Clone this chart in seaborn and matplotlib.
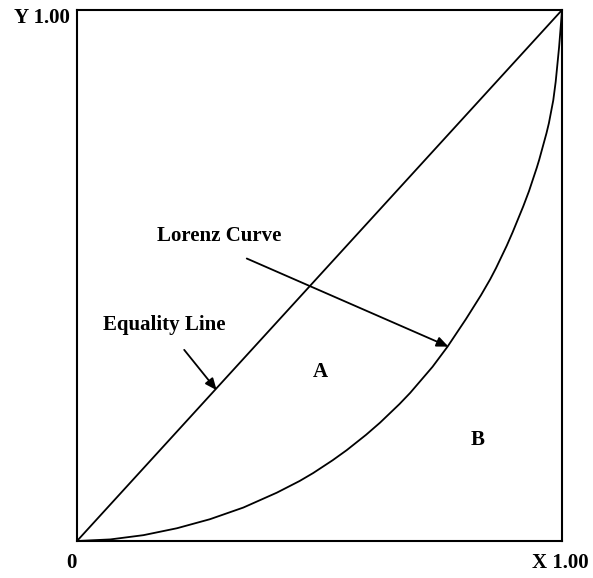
import matplotlib
matplotlib.use("Agg")
import matplotlib.pyplot as plt
import seaborn as sns
import pandas as pd

# Equality line
eq_x = [0.0, 1.0]
eq_y = [0.0, 1.0]

# Lorenz curve points
lorenz_x = [0.0, 0.069, 0.137, 0.206, 0.274, 0.343, 0.412, 0.459, 0.487, 0.527,
            0.556, 0.596, 0.625, 0.665, 0.687, 0.733, 0.764, 0.802, 0.833, 0.852,
            0.864, 0.886, 0.898, 0.920, 0.932, 0.948, 0.953, 0.968, 0.973, 0.982,
            0.987, 0.994, 0.998, 1.0]
lorenz_y = [0.0, 0.003, 0.011, 0.024, 0.041, 0.063, 0.091, 0.113, 0.128, 0.152,
            0.171, 0.200, 0.223, 0.258, 0.279, 0.328, 0.366, 0.418, 0.463, 0.493,
            0.514, 0.556, 0.581, 0.630, 0.659, 0.703, 0.718, 0.768, 0.787, 0.830,
            0.865, 0.930, 0.976, 1.0]

sns.set_style("white")
plt.rcParams['font.family'] = ['Liberation Serif', 'DejaVu Serif']

fig = plt.figure(figsize=(5.93, 5.78), dpi=100)
ax = fig.add_axes([77/593, 37/578, 485/593, 531/578])

eq_df = pd.DataFrame({"x": eq_x, "y": eq_y})
lz_df = pd.DataFrame({"x": lorenz_x, "y": lorenz_y})
sns.lineplot(data=eq_df, x="x", y="y", ax=ax, color="black", lw=1.3, sort=False)
sns.lineplot(data=lz_df, x="x", y="y", ax=ax, color="black", lw=1.3, sort=False)

ax.set_xlim(0, 1)
ax.set_ylim(0, 1)
ax.set_xticks([])
ax.set_yticks([])
ax.set_xlabel("")
ax.set_ylabel("")
for s in ax.spines.values():
    s.set_color("black")
    s.set_linewidth(1.5)

fs = 15
tkw = dict(fontsize=fs, fontweight="bold", color="black")
ax.text(0.293, 0.574, "Lorenz Curve", ha="center", va="center", **tkw)
ax.text(0.179, 0.407, "Equality Line", ha="center", va="center", **tkw)
ax.text(0.501, 0.318, "A", ha="center", va="center", **tkw)
ax.text(0.827, 0.190, "B", ha="center", va="center", **tkw)
ax.text(-0.014, 0.985, "Y 1.00", ha="right", va="center", clip_on=False, **tkw)
ax.text(-0.012, -0.041, "0", ha="center", va="center", clip_on=False, **tkw)
ax.text(0.996, -0.041, "X 1.00", ha="center", va="center", clip_on=False, **tkw)

akw = dict(arrowstyle="-|>,head_length=0.7,head_width=0.3", color="black", lw=1.3,
           shrinkA=0, shrinkB=0)
ax.annotate("", xy=(0.766, 0.366), xytext=(0.350, 0.532), arrowprops=akw)
ax.annotate("", xy=(0.288, 0.284), xytext=(0.221, 0.360), arrowprops=akw)

fig.savefig("out.png", dpi=100)
